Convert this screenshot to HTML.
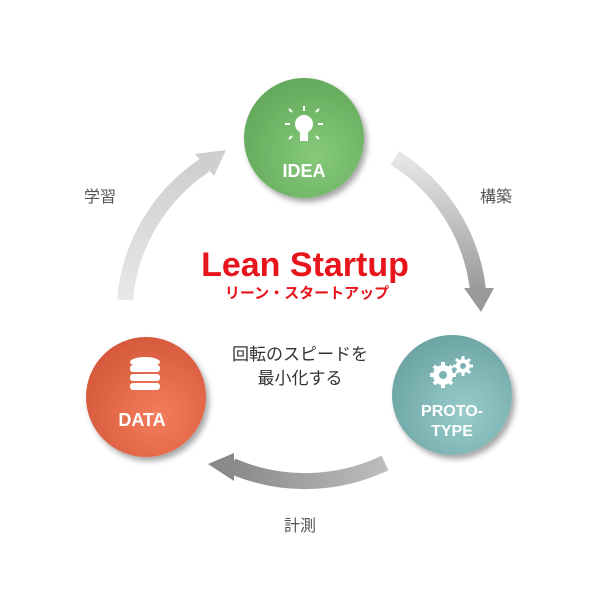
<!DOCTYPE html>
<html><head><meta charset="utf-8"><style>
body{margin:0;width:600px;height:600px;background:#fff;overflow:hidden;font-family:"Liberation Sans","Noto Sans CJK JP",sans-serif}
</style></head><body>
<svg width="600" height="600" xmlns="http://www.w3.org/2000/svg">
<defs>
<radialGradient id="g1" cx="0.6" cy="0.65" r="0.7"><stop offset="0" stop-color="#86c97a"/><stop offset="1" stop-color="#62a85a"/></radialGradient>
<radialGradient id="g2" cx="0.6" cy="0.65" r="0.7"><stop offset="0" stop-color="#98cccb"/><stop offset="1" stop-color="#6aa3a2"/></radialGradient>
<radialGradient id="g3" cx="0.6" cy="0.65" r="0.7"><stop offset="0" stop-color="#f47d5c"/><stop offset="1" stop-color="#d4573a"/></radialGradient>
<filter id="sh" x="-20%" y="-20%" width="150%" height="150%"><feDropShadow dx="3" dy="4" stdDeviation="3" flood-color="#000" flood-opacity="0.35"/></filter>
<linearGradient id="a1" x1="0" y1="0" x2="0" y2="1"><stop offset="0" stop-color="#e6e6e6"/><stop offset="1" stop-color="#9a9a9a"/></linearGradient>
<linearGradient id="a2" x1="1" y1="0" x2="0" y2="0"><stop offset="0" stop-color="#bdbdbd"/><stop offset="1" stop-color="#8a8a8a"/></linearGradient>
<linearGradient id="a3" x1="0" y1="1" x2="0" y2="0"><stop offset="0" stop-color="#e8e8e8"/><stop offset="1" stop-color="#cfcfcf"/></linearGradient>
</defs>
<path d="M395 158 A180 180 0 0 1 478 290" fill="none" stroke="url(#a1)" stroke-width="16"/>
<polygon points="464,288 494,288 481,312" fill="#999"/>
<path d="M385 463 A185 185 0 0 1 232 466" fill="none" stroke="url(#a2)" stroke-width="16"/>
<polygon points="234,453 234,481 208,464" fill="#8a8a8a"/>
<path d="M125 300 A180 180 0 0 1 205 165" fill="none" stroke="url(#a3)" stroke-width="16"/>
<polygon points="195,154 214,176 226,150" fill="#cfcfcf"/>
<circle cx="304" cy="138" r="60" fill="url(#g1)" filter="url(#sh)"/>
<circle cx="452" cy="395" r="60" fill="url(#g2)" filter="url(#sh)"/>
<circle cx="146" cy="397" r="60" fill="url(#g3)" filter="url(#sh)"/>
<g fill="#fff" stroke="#fff">
<circle cx="304" cy="124" r="9" stroke="none"/>
<rect x="300" y="131" width="8" height="10" stroke="none"/>
<g stroke-width="2"><line x1="304" y1="106" x2="304" y2="111"/><line x1="290" y1="124" x2="285" y2="124"/><line x1="318" y1="124" x2="323" y2="124"/><line x1="292" y1="112" x2="289" y2="109"/><line x1="316" y1="112" x2="319" y2="109"/><line x1="292" y1="136" x2="289" y2="139"/><line x1="316" y1="136" x2="319" y2="139"/></g>
</g>
<text x="304" y="177" text-anchor="middle" font-size="18" font-weight="bold" fill="#fff">IDEA</text>
<g fill="#fff">
<g stroke="#fff" stroke-width="4"><line x1="443" y1="362" x2="443" y2="388"/><line x1="430" y1="375" x2="456" y2="375"/><line x1="434" y1="366" x2="452" y2="384"/><line x1="452" y1="366" x2="434" y2="384"/></g>
<g stroke="#fff" stroke-width="3"><line x1="463" y1="356" x2="463" y2="376"/><line x1="453" y1="366" x2="473" y2="366"/><line x1="456" y1="359" x2="470" y2="373"/><line x1="470" y1="359" x2="456" y2="373"/></g>
<circle cx="443" cy="375" r="10"/><circle cx="463" cy="366" r="7"/>
<circle cx="443" cy="375" r="4" fill="#7db3b2"/><circle cx="463" cy="366" r="3" fill="#7db3b2"/></g>
<text x="452" y="416" text-anchor="middle" font-size="16" font-weight="bold" fill="#fff">PROTO-</text>
<text x="452" y="436" text-anchor="middle" font-size="16" font-weight="bold" fill="#fff">TYPE</text>
<g fill="#fff"><ellipse cx="145" cy="362" rx="15" ry="5"/><rect x="130" y="365" width="30" height="7" rx="3"/><rect x="130" y="374" width="30" height="7" rx="3"/><rect x="130" y="383" width="30" height="7" rx="3"/></g>
<text x="142" y="426" text-anchor="middle" font-size="18" font-weight="bold" fill="#fff">DATA</text>
<text x="305" y="276" text-anchor="middle" font-size="34" font-weight="bold" fill="#e8141c">Lean Startup</text>
<text x="307" y="298" text-anchor="middle" font-size="15" font-weight="bold" fill="#e8141c">リーン・スタートアップ</text>
<text x="300" y="360" text-anchor="middle" font-size="17" fill="#333">回転のスピードを</text>
<text x="300" y="384" text-anchor="middle" font-size="17" fill="#333">最小化する</text>
<text x="100" y="202" text-anchor="middle" font-size="16" fill="#555">学習</text>
<text x="496" y="202" text-anchor="middle" font-size="16" fill="#555">構築</text>
<text x="300" y="531" text-anchor="middle" font-size="16" fill="#555">計測</text>
</svg>
</body></html>
